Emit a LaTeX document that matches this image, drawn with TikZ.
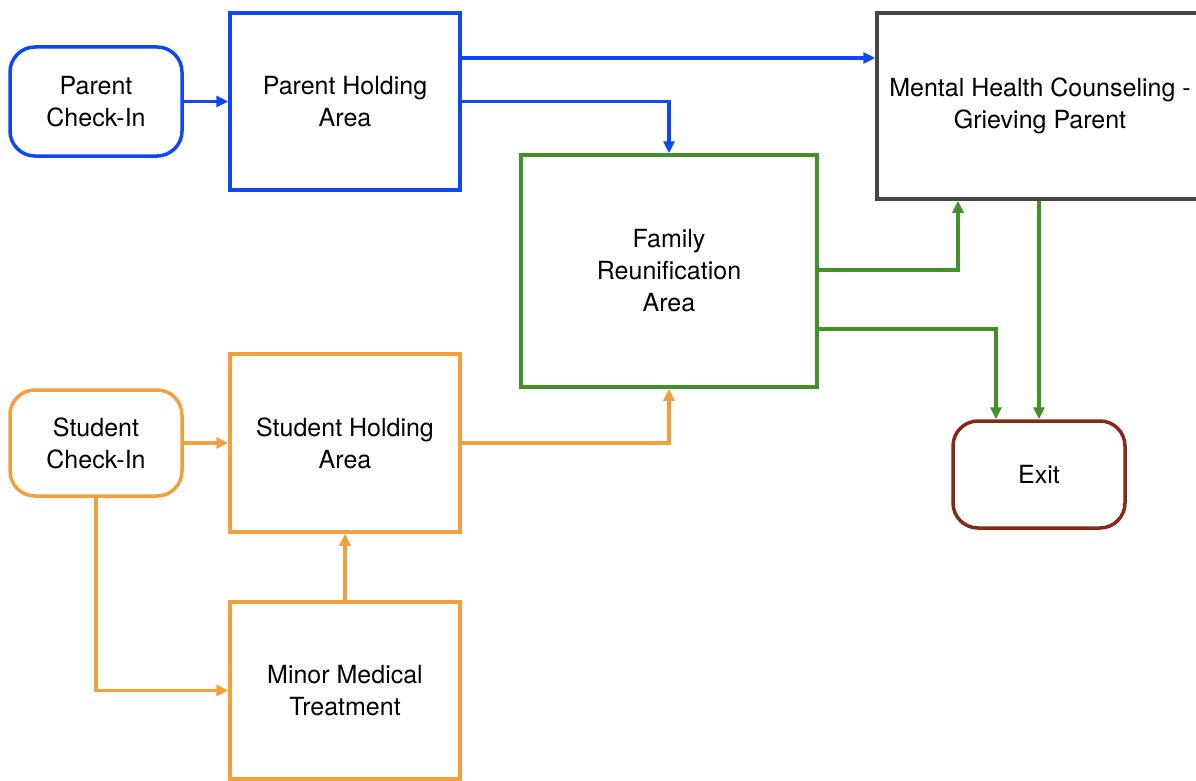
\documentclass[tikz,border=0pt]{standalone}
\usepackage{fontspec}
\setmainfont{TeX Gyre Heros}
\usetikzlibrary{arrows.meta}
\definecolor{cblue}{RGB}{15,70,245}
\definecolor{cgreen}{RGB}{65,145,40}
\definecolor{corange}{RGB}{242,160,62}
\definecolor{cgray}{RGB}{70,70,70}
\definecolor{cred}{RGB}{135,40,25}
\begin{document}
\begin{tikzpicture}[x=1pt,y=-1pt,
  box/.style={draw, line width=3.5pt, inner sep=0pt, align=center, fill=white,
    font=\fontsize{25}{32}\selectfont},
  rbox/.style={box, rounded corners=25pt},
  conn/.style={line width=3.5pt, -{Triangle[length=12pt,width=11pt]}},
]
\useasboundingbox (0,0) rectangle (1196,781);
% nodes
\node[rbox, draw=cblue, minimum width=172pt, minimum height=109pt] (pc) at (96,101.5) {Parent\\Check-In};
\node[box, draw=cblue, minimum width=230pt, minimum height=177pt] (ph) at (345,101.5) {Parent Holding\\Area};
\node[box, draw=cgray, minimum width=326pt, minimum height=186pt] (mh) at (1040,106) {Mental Health Counseling -\\Grieving Parent};
\node[box, draw=cgreen, minimum width=296pt, minimum height=232pt] (fr) at (669,271) {Family\\Reunification\\Area};
\node[rbox, draw=corange, minimum width=172pt, minimum height=106pt] (sc) at (96,443) {Student\\Check-In};
\node[box, draw=corange, minimum width=230pt, minimum height=178pt] (sh) at (345,443) {Student Holding\\Area};
\node[box, draw=corange, minimum width=230pt, minimum height=177pt] (mm) at (345,690.5) {Minor Medical\\Treatment};
\node[rbox, draw=cred, minimum width=172pt, minimum height=107pt] (ex) at (1039,474.5) {Exit};
% helper coordinates
\coordinate (c58) at (0,58);
\coordinate (c270) at (0,270);
\coordinate (c329) at (0,329);
\coordinate (c958) at (958,0);
\coordinate (c996) at (996,0);
\coordinate (c1039) at (1039,0);
% connectors
\draw[conn, cblue] (pc.east) -- (ph.west);
\draw[conn, cblue] (ph.east |- c58) -- (mh.west |- c58);
\draw[conn, cblue] (ph.east) -| (fr.north);
\draw[conn, cgreen] (fr.east |- c270) -| (c958 |- mh.south);
\draw[conn, cgreen] (fr.east |- c329) -| (c996 |- ex.north);
\draw[conn, cgreen] (c1039 |- mh.south) -- (c1039 |- ex.north);
\draw[conn, corange] (sc.east) -- (sh.west);
\draw[conn, corange] (sh.east) -| (fr.south);
\draw[conn, corange] (mm.north) -- (sh.south);
\draw[conn, corange] (sc.south) |- (mm.west);
\end{tikzpicture}
\end{document}
